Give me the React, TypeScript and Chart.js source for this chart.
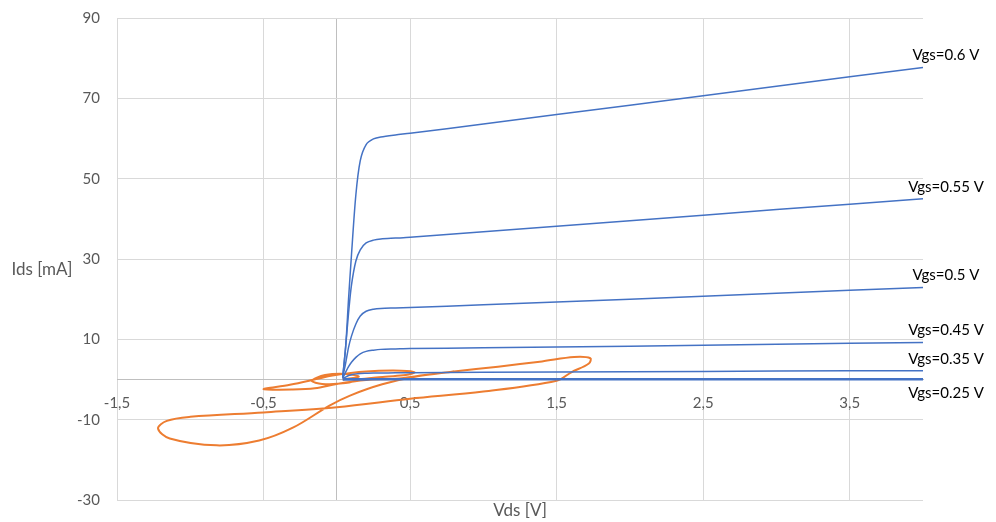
import React, { useEffect, useRef } from 'react';
import { Chart, registerables } from 'chart.js';

Chart.register(...registerables);

// Drain-source voltage sweep for the output characteristics [V]
const vdsSweep = [0.04, 0.06, 0.08, 0.1, 0.13, 0.16, 0.2, 0.25, 0.3, 0.4, 0.5, 1, 2, 3, 4];

// Drain current for each gate voltage [mA]
const ids060 = [0.5, 8, 20, 31, 46, 54.5, 58.5, 59.9, 60.4, 60.9, 61.3, 63.6, 68.3, 73.0, 77.7];
const ids055 = [0.5, 8, 16.5, 23.5, 29.5, 32.3, 34.0, 34.7, 35.0, 35.2, 35.4, 36.8, 39.5, 42.3, 45.0];
const ids050 = [0.5, 4, 8, 10.8, 13.8, 15.8, 17.0, 17.5, 17.7, 17.8, 17.9, 18.6, 20.0, 21.5, 22.9];
const ids045 = [0.3, 1.8, 3.2, 4.3, 5.5, 6.4, 7.0, 7.3, 7.5, 7.6, 7.7, 7.9, 8.3, 8.8, 9.2];
const ids035 = [0.2, 0.6, 1.0, 1.2, 1.4, 1.5, 1.55, 1.6, 1.6, 1.65, 1.7, 1.8, 1.9, 2.1, 2.2];
const ids025 = [0, 0.02, 0.03, 0.03, 0.04, 0.04, 0.04, 0.05, 0.05, 0.05, 0.05, 0.05, 0.05, 0.06, 0.06];

const vgsLabels = ['Vgs=0.6 V', 'Vgs=0.55 V', 'Vgs=0.5 V', 'Vgs=0.45 V', 'Vgs=0.35 V', 'Vgs=0.25 V'];

// Operating-point trajectory (Vds, Ids)
const trajVds = [
  0.04, 0.15, 0.06, -0.08, -0.17, -0.1, 0.06, 0.17,
  0.33, 0.47, 0.53, 0.44, 0.2, -0.03, -0.14, -0.32, -0.5, -0.3, -0.15, 0.0, 0.2,
  0.4, 0.6, 0.8, 1.1, 1.4, 1.62, 1.73, 1.72, 1.6, 1.5, 1.0, 0.5, 0.0, -0.5, -1.0, -1.16, -1.22,
  -1.14, -0.82, -0.53, -0.3, -0.05, 0.09, 0.31, 0.55, 0.8,
];
const trajIds = [
  0.0, 0.7, 1.4, 1.1, -0.3, -1.1, -0.9, 0.1,
  0.7, 1.1, 1.8, 2.2, 2.0, 1.0, 0.1, -1.3, -2.4, -2.5, -2.2, -1.1, -0.1,
  0.2, 1.1, 2.0, 3.2, 4.5, 5.6, 5.3, 4.0, 1.8, -0.3, -3.0, -4.8, -6.9, -8.2, -9.3, -10.3, -12.2,
  -14.7, -16.4, -15.2, -12.0, -6.5, -4.0, -1.2, 0.8, 2.0,
];

const xTicks = [-1.5, -0.5, 0, 0.5, 1.5, 2.5, 3.5];
const yTicks = [-30, -10, 10, 30, 50, 70, 90];

const xTitle = 'Vds [V]';
const yTitle = 'Ids [mA]';

const BLUE = '#4472C4';
const ORANGE = '#ED7D31';
const FONT = 'Lato, "Open Sans", sans-serif';

export default function App() {
  const ref = useRef<HTMLCanvasElement | null>(null);

  useEffect(() => {
    document.body.style.margin = '0';
    const canvas = ref.current;
    if (!canvas) return;

    const curves = [ids060, ids055, ids050, ids045, ids035, ids025];
    const toPts = (xs: number[], ys: number[]) => xs.map((x, i) => ({ x, y: ys[i] }));

    const blueSets = curves.map((ys, i) => ({
      label: vgsLabels[i],
      data: toPts(vdsSweep, ys),
      borderColor: BLUE,
      backgroundColor: BLUE,
      borderWidth: i === 5 ? 2.6 : 1.5,
      showLine: true,
      pointRadius: 0,
      tension: 0.3,
      fill: false,
    }));

    const labelPlugin = {
      id: 'curveLabels',
      afterDatasetsDraw(chart: any) {
        const c = chart.ctx;
        const { left, right, top, bottom } = chart.chartArea;
        const xs = chart.scales.x;
        const ysc = chart.scales.y;
        c.save();
        c.font = `15px ${FONT}`;
        c.fillStyle = '#000000';
        c.textAlign = 'center';
        c.textBaseline = 'middle';
        curves.forEach((ys, i) => {
          const last = ys.length - 1;
          const px = xs.getPixelForValue(vdsSweep[last]);
          const py = ysc.getPixelForValue(ys[last]);
          const below = i === curves.length - 1;
          c.fillText(vgsLabels[i], px + 23, py + (below ? 14 : -12));
        });
        c.fillStyle = '#595959';
        c.font = `17px ${FONT}`;
        c.fillText(yTitle, left - 75, (top + bottom) / 2 + 11);
        c.fillText(xTitle, (left + right) / 2, bottom + 11);
        c.restore();
      },
    };

    const chart = new Chart(canvas, {
      type: 'scatter',
      data: {
        datasets: [
          ...blueSets,
          {
            label: 'trajectory',
            data: toPts(trajVds, trajIds),
            borderColor: ORANGE,
            backgroundColor: ORANGE,
            borderWidth: 2,
            showLine: true,
            pointRadius: 0,
            tension: 0.35,
            fill: false,
          },
        ],
      },
      options: {
        animation: false,
        responsive: false,
        maintainAspectRatio: false,
        layout: { padding: { left: 0, top: 18, right: 73, bottom: 22 } },
        plugins: {
          legend: { display: false },
          tooltip: { enabled: false },
        },
        scales: {
          x: {
            type: 'linear',
            min: -1.5,
            max: 4,
            position: { y: 0 } as any,
            afterBuildTicks: (scale: any) => {
              scale.ticks = xTicks.map((v) => ({ value: v }));
            },
            grid: {
              color: (ctx: any) => (ctx.tick && ctx.tick.value === 0 ? '#bfbfbf' : '#d9d9d9'),
              lineWidth: 1,
              drawTicks: false,
            },
            border: { display: true, color: '#bfbfbf', width: 1 },
            ticks: {
              padding: 15,
              color: '#595959',
              font: { family: FONT, size: 15 },
              autoSkip: false,
              maxRotation: 0,
              callback: (v: any) => (Number(v) === 0 ? '' : String(v).replace('.', ',')),
            },
          },
          y: {
            type: 'linear',
            min: -30,
            max: 90,
            position: 'left',
            afterBuildTicks: (scale: any) => {
              scale.ticks = yTicks.map((v) => ({ value: v }));
            },
            afterFit: (scale: any) => {
              scale.width = 117;
            },
            grid: {
              color: '#d9d9d9',
              lineWidth: 1,
              drawTicks: true,
              tickLength: 17,
              tickColor: 'rgba(0,0,0,0)',
            },
            border: { display: false },
            ticks: {
              padding: 0,
              color: '#595959',
              font: { family: FONT, size: 15 },
              autoSkip: false,
            },
          },
        },
      },
      plugins: [labelPlugin],
    });

    return () => chart.destroy();
  }, []);

  return <canvas ref={ref} width={996} height={522} style={{ display: 'block' }} />;
}
